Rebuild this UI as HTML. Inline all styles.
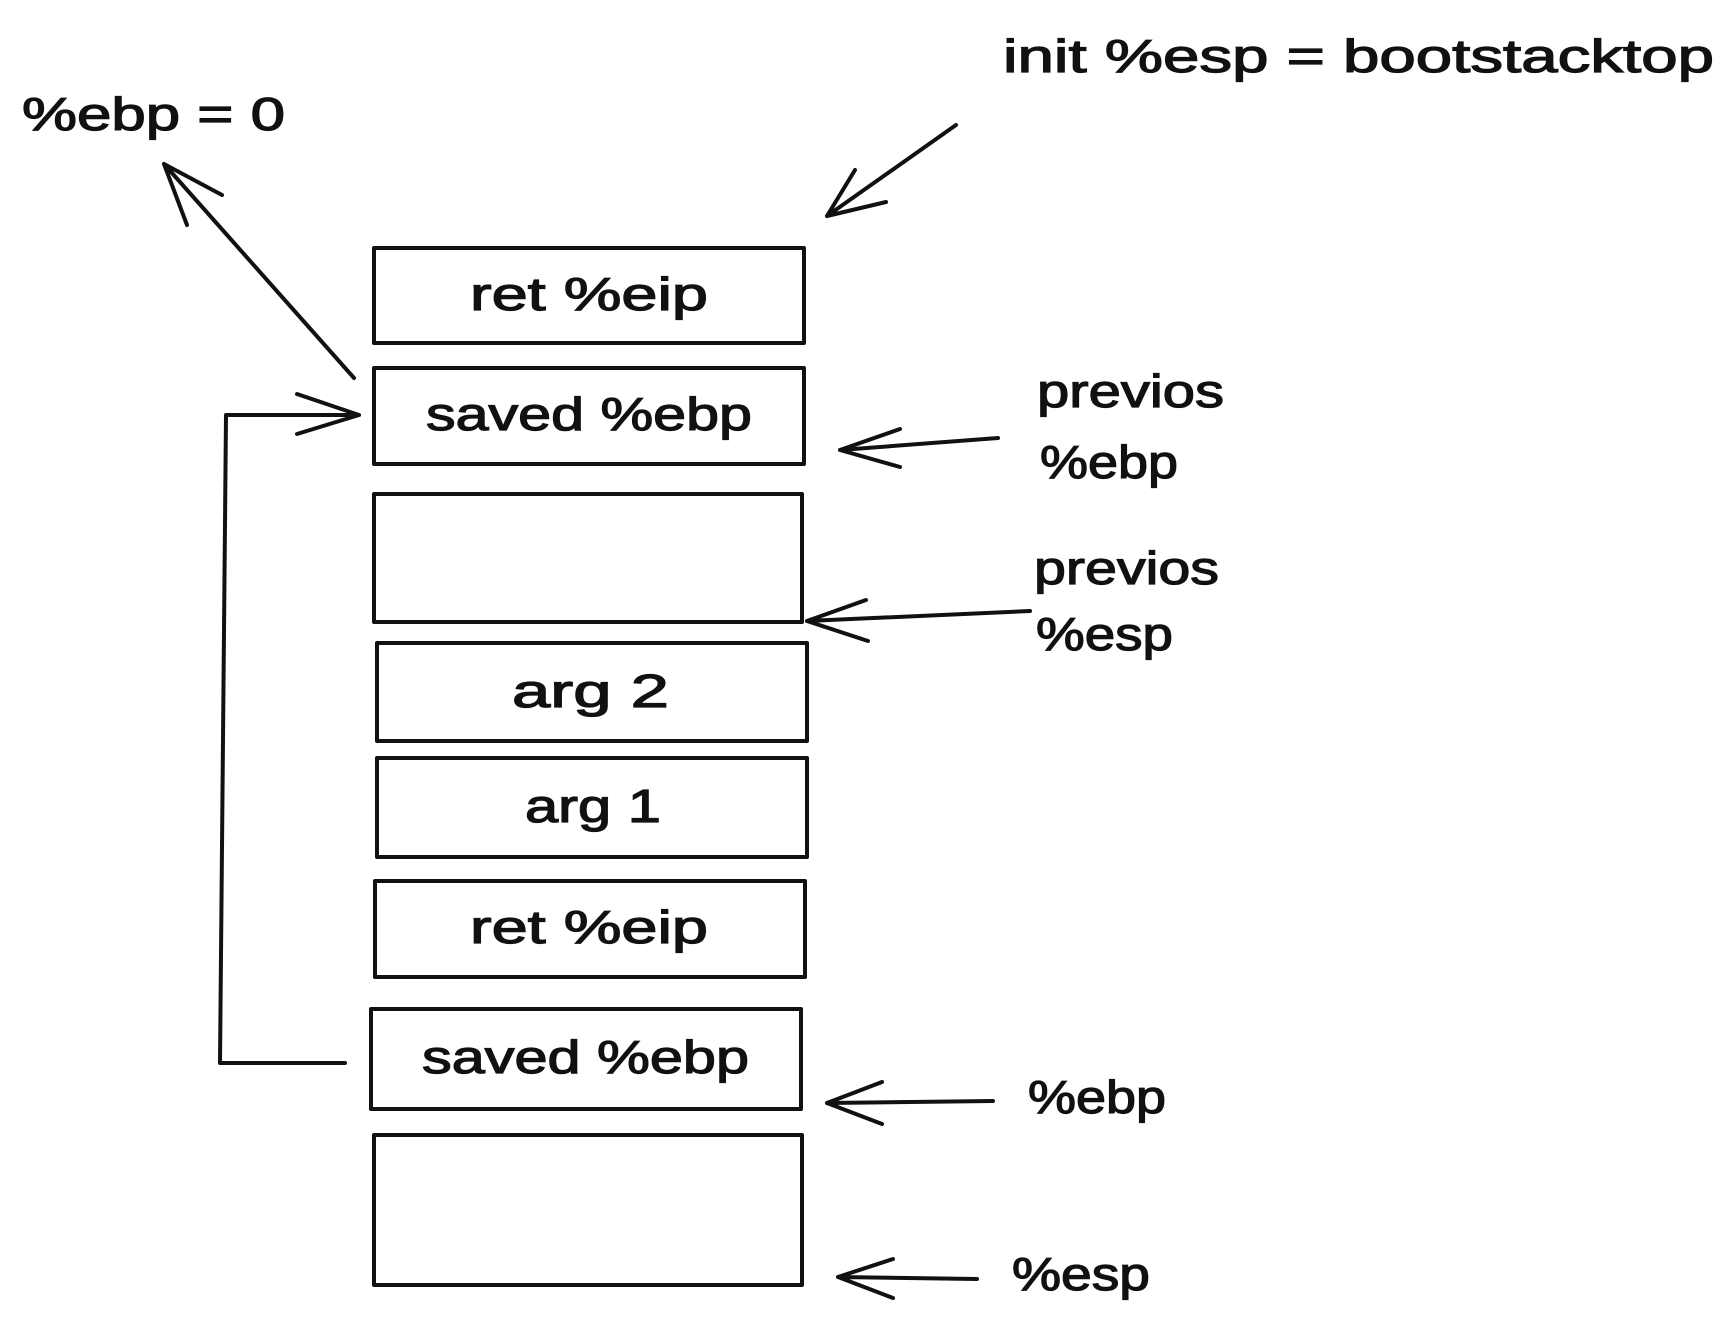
<!DOCTYPE html>
<html><head><meta charset="utf-8"><style>
html,body{margin:0;padding:0;background:#fff;}
svg{display:block;}
text{font-family:"Liberation Sans","DejaVu Sans",sans-serif;font-size:46px;fill:#111;stroke:#111;stroke-width:1.2px;}
</style></head><body>
<svg width="1729" height="1327" viewBox="0 0 1729 1327" xmlns="http://www.w3.org/2000/svg">
<g fill="none" stroke="#111" stroke-width="4" stroke-linecap="round" stroke-linejoin="round">
<rect x="374" y="248" width="430" height="95"/>
<rect x="374" y="368" width="430" height="96"/>
<rect x="374" y="494" width="428" height="128"/>
<rect x="377" y="643" width="430" height="98"/>
<rect x="377" y="758" width="430" height="99"/>
<rect x="375" y="881" width="430" height="96"/>
<rect x="371" y="1009" width="430" height="100"/>
<rect x="374" y="1135" width="428" height="150"/>
<path d="M956 125 L827 216 M827 216 L855 170 M827 216 L886 202"/>
<path d="M354 378 L164 164 M164 164 L187 225 M164 164 L222 195"/>
<path d="M345 1063 L220 1063 L226 415 L359 415 M359 415 L297 394 M359 415 L297 434"/>
<path d="M998 438 L840 450 M840 450 L900 429 M840 450 L900 467"/>
<path d="M1030 611 L807 621 M807 621 L866 600 M807 621 L868 641"/>
<path d="M993 1101 L827 1103 M827 1103 L882 1082 M827 1103 L882 1124"/>
<path d="M977 1279 L838 1277 M838 1277 L893 1259 M838 1277 L893 1298"/>
</g>
<text x="1003" y="72" textLength="711" lengthAdjust="spacingAndGlyphs">init %esp = bootstacktop</text>
<text x="22" y="130" textLength="263" lengthAdjust="spacingAndGlyphs">%ebp = 0</text>
<text x="470" y="310" textLength="238" lengthAdjust="spacingAndGlyphs">ret %eip</text>
<text x="426" y="430" textLength="326" lengthAdjust="spacingAndGlyphs">saved %ebp</text>
<text x="512" y="707" textLength="157" lengthAdjust="spacingAndGlyphs">arg 2</text>
<text x="525" y="822" textLength="136" lengthAdjust="spacingAndGlyphs">arg 1</text>
<text x="470" y="943" textLength="238" lengthAdjust="spacingAndGlyphs">ret %eip</text>
<text x="422" y="1073" textLength="327" lengthAdjust="spacingAndGlyphs">saved %ebp</text>
<text x="1037" y="407" textLength="187" lengthAdjust="spacingAndGlyphs">previos</text>
<text x="1040" y="478" textLength="138" lengthAdjust="spacingAndGlyphs">%ebp</text>
<text x="1034" y="584" textLength="185" lengthAdjust="spacingAndGlyphs">previos</text>
<text x="1036" y="650" textLength="137" lengthAdjust="spacingAndGlyphs">%esp</text>
<text x="1028" y="1113" textLength="138" lengthAdjust="spacingAndGlyphs">%ebp</text>
<text x="1012" y="1290" textLength="138" lengthAdjust="spacingAndGlyphs">%esp</text>
</svg>
</body></html>
